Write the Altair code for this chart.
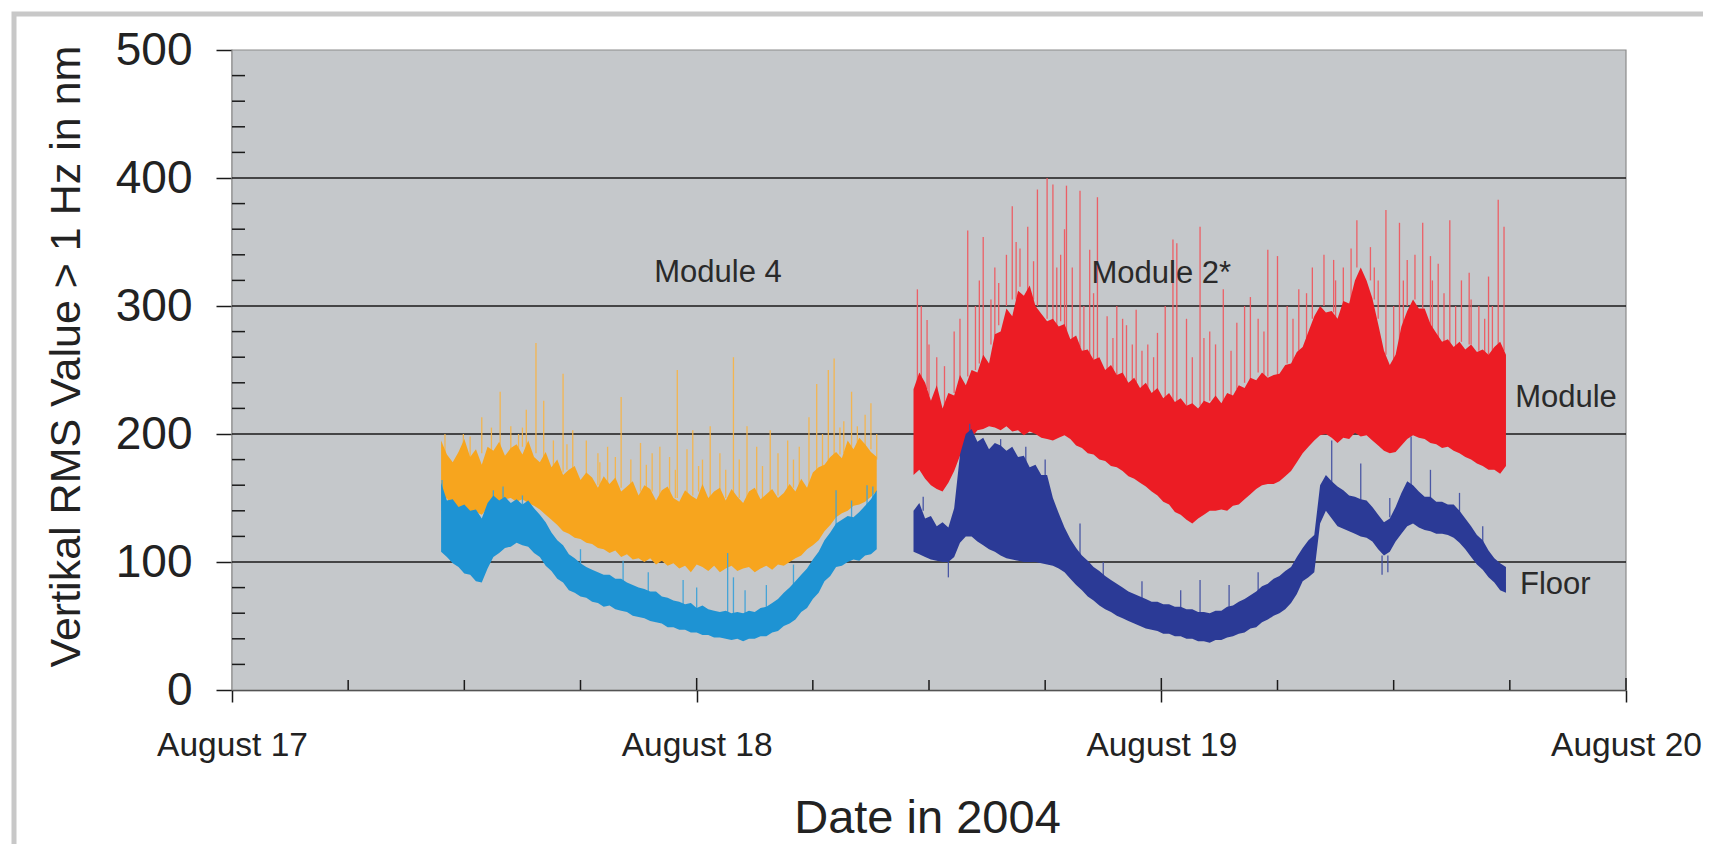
import altair as alt
import pandas as pd

# ---------------- data (hours since August 17, 00:00; values in nm) ----------------
# Module 4 (orange) and the floor under it (light blue): shared sample hours
M4_H = [10.8, 11.1, 11.4, 11.7, 12.0, 12.3, 12.6, 12.9, 13.2, 13.5,
        13.8, 14.1, 14.4, 14.7, 15.0, 15.3, 15.6, 15.9, 16.2, 16.5,
        16.8, 17.1, 17.4, 17.7, 18.0, 18.3, 18.6, 18.9, 19.2, 19.5,
        19.8, 20.1, 20.4, 20.7, 21.0, 21.3, 21.6, 21.9, 22.2, 22.5,
        22.8, 23.1, 23.4, 23.7, 24.0, 24.3, 24.6, 24.9, 25.2, 25.5,
        25.8, 26.1, 26.4, 26.7, 27.0, 27.3, 27.6, 27.9, 28.2, 28.5,
        28.8, 29.1, 29.4, 29.7, 30.0, 30.3, 30.6, 30.9, 31.2, 31.5,
        31.8, 32.1, 32.4, 32.7, 33.0, 33.3]
OR_LO = [145, 150, 140, 131, 128, 134, 139, 137, 142, 146,
         145, 149, 150, 147, 149, 146, 144, 141, 137, 133,
         129, 124, 122, 119, 118, 115, 114, 111, 110, 107,
         109, 104, 106, 102, 103, 100, 103, 98, 101, 97,
         99, 95, 97, 92, 98, 96, 93, 97, 92, 95,
         97, 93, 95, 96, 92, 95, 97, 94, 98, 97,
         100, 103, 105, 110, 113, 117, 124, 129, 135, 138,
         140, 144, 145, 147, 151, 155]
OR_HI = [195, 184, 178, 186, 196, 182, 188, 176, 190, 187,
         194, 183, 189, 192, 184, 195, 182, 178, 186, 174,
         180, 168, 172, 175, 164, 170, 166, 158, 167, 161,
         166, 155, 159, 163, 152, 160, 157, 148, 156, 159,
         150, 147, 156, 152, 149, 161, 150, 155, 158, 148,
         157, 151, 146, 155, 158, 149, 153, 157, 150, 154,
         161, 155, 165, 158, 170, 174, 176, 182, 186, 181,
         195, 188, 197, 192, 186, 182]
LB_LO = [108, 104, 99, 96, 91, 90, 85, 84, 95, 104,
         107, 111, 112, 115, 113, 112, 107, 104, 97, 93,
         87, 84, 78, 76, 73, 72, 69, 68, 65, 66,
         63, 62, 61, 58, 57, 56, 54, 53, 52, 49,
         49, 47, 47, 45, 45, 43, 43, 41, 41, 40,
         39, 40, 38, 40, 40, 42, 42, 45, 46, 50,
         52, 55, 61, 64, 71, 76, 85, 89, 96, 97,
         100, 102, 101, 105, 106, 110]
LB_HI = [162, 148, 149, 143, 145, 140, 141, 134, 146, 152,
         148, 151, 146, 149, 145, 148, 142, 137, 131, 123,
         117, 113, 106, 103, 99, 96, 94, 92, 90, 90,
         87, 87, 84, 82, 80, 79, 77, 77, 73, 72,
         70, 69, 67, 68, 64, 66, 63, 62, 61, 62,
         60, 61, 60, 62, 61, 64, 65, 68, 71, 76,
         80, 85, 90, 95, 102, 108, 117, 123, 130, 133,
         136, 135, 139, 144, 149, 156]

# Module 2* (red) and the floor under it (dark blue): shared sample hours
M2_H = [35.2, 35.5, 35.8, 36.1, 36.4, 36.7, 37.0, 37.3, 37.6, 37.9, 38.2, 38.5,
        38.8, 39.1, 39.4, 39.7, 40.0, 40.3, 40.6, 40.9, 41.2, 41.5, 41.8, 42.1,
        42.4, 42.7, 43.0, 43.3, 43.6, 43.9, 44.2, 44.5, 44.8, 45.1, 45.4, 45.7,
        46.0, 46.3, 46.6, 46.9, 47.2, 47.5, 47.8, 48.1, 48.4, 48.7, 49.0, 49.3,
        49.6, 49.9, 50.2, 50.5, 50.8, 51.1, 51.4, 51.7, 52.0, 52.3, 52.6, 52.9,
        53.2, 53.5, 53.8, 54.1, 54.4, 54.7, 55.0, 55.3, 55.6, 55.9, 56.2, 56.5,
        56.8, 57.1, 57.4, 57.7, 58.0, 58.3, 58.6, 58.9, 59.2, 59.5, 59.8, 60.1,
        60.4, 60.7, 61.0, 61.3, 61.6, 61.9, 62.2, 62.5, 62.8, 63.1, 63.4, 63.7,
        64.0, 64.3, 64.6, 64.9, 65.2, 65.5, 65.8]
RD_LO = [168, 172, 165, 160, 157, 155, 162, 171, 183, 189, 197, 203,
         204, 206, 205, 203, 206, 202, 203, 199, 202, 200, 197, 196,
         195, 197, 199, 196, 191, 189, 185, 184, 180, 179, 175, 174,
         171, 167, 165, 162, 159, 155, 152, 147, 145, 139, 137, 133,
         130, 134, 137, 140, 140, 141, 140, 144, 145, 149, 153, 157,
         160, 161, 161, 163, 167, 171, 178, 185, 190, 195, 199, 200,
         197, 193, 197, 196, 201, 198, 199, 195, 191, 187, 185, 186,
         191, 196, 199, 197, 196, 193, 192, 189, 190, 187, 185, 182,
         180, 177, 175, 172, 172, 169, 175]
RD_HI = [235, 248, 240, 226, 238, 220, 232, 230, 246, 238, 250, 248,
         262, 255, 278, 280, 298, 292, 312, 308, 316, 300, 294, 288,
         290, 284, 286, 274, 277, 265, 266, 258, 260, 250, 254, 246,
         248, 240, 244, 236, 240, 232, 236, 228, 232, 225, 228, 222,
         224, 220, 226, 224, 230, 224, 232, 230, 238, 236, 244, 242,
         248, 244, 246, 247, 254, 255, 264, 268, 280, 292, 300, 295,
         296, 290, 304, 302, 320, 330, 320, 306, 286, 265, 254, 262,
         284, 296, 305, 298, 298, 286, 279, 272, 274, 268, 272, 266,
         270, 264, 266, 262, 268, 272, 262]
DB_LO = [108, 106, 104, 102, 101, 100, 100, 104, 115, 120, 120, 116,
         113, 110, 108, 105, 103, 102, 101, 100, 100, 100, 99, 98,
         97, 95, 92, 87, 82, 78, 73, 70, 66, 63, 61, 58,
         56, 54, 52, 50, 48, 47, 46, 44, 44, 42, 42, 40,
         40, 38, 38, 37, 39, 39, 41, 42, 44, 45, 48, 49,
         53, 55, 58, 60, 63, 68, 75, 85, 88, 92, 130, 140,
         134, 128, 126, 124, 122, 120, 119, 116, 110, 105, 108, 116,
         122, 128, 130, 127, 125, 124, 122, 122, 121, 119, 115, 110,
         104, 98, 94, 88, 84, 78, 76]
DB_HI = [140, 146, 134, 136, 128, 131, 127, 142, 184, 200, 204, 194,
         197, 188, 193, 191, 187, 190, 182, 183, 174, 176, 168, 168,
         150, 138, 127, 118, 111, 105, 101, 96, 93, 89, 86, 83,
         80, 77, 75, 73, 71, 69, 69, 67, 67, 65, 65, 63,
         63, 61, 61, 60, 62, 62, 65, 66, 69, 71, 74, 77,
         81, 83, 87, 89, 93, 96, 104, 111, 117, 121, 160, 168,
         163, 159, 156, 152, 151, 149, 148, 143, 137, 131, 134, 143,
         154, 163, 160, 155, 151, 151, 147, 147, 145, 145, 140, 134,
         128, 121, 117, 109, 103, 99, 96]

# spikes: (hour, core value, tip value)
OR_SPIKES = [(11.0, 180, 200), (11.95, 185, 200), (12.3, 182, 198), (12.9, 185, 213), (13.4, 185, 205),
             (13.85, 185, 233), (14.4, 188, 206), (14.8, 185, 200), (15.0, 190, 205), (15.2, 188, 219),
             (15.7, 185, 271), (16.1, 180, 226), (16.6, 175, 195), (17.1, 170, 247), (17.3, 172, 192),
             (17.6, 168, 203), (18.3, 165, 195), (18.9, 160, 185), (19.0, 160, 178), (19.4, 160, 190),
             (19.8, 162, 182), (20.1, 158, 229), (20.6, 155, 180), (21.1, 155, 193), (21.4, 156, 176),
             (21.7, 155, 185), (22.1, 150, 190), (22.6, 150, 182), (22.9, 150, 172), (23.0, 150, 250),
             (23.5, 150, 188), (23.8, 152, 203), (24.1, 155, 175), (24.3, 150, 180), (24.7, 150, 206),
             (25.2, 152, 185), (25.5, 150, 172), (25.9, 150, 260), (26.2, 150, 180), (26.6, 150, 206),
             (27.1, 152, 190), (27.4, 150, 175), (27.8, 150, 203), (28.2, 152, 185), (28.7, 155, 195),
             (29.0, 158, 180), (29.3, 158, 190), (29.8, 160, 213), (30.2, 165, 239), (30.5, 175, 200),
             (30.8, 178, 250), (31.1, 180, 259), (31.4, 184, 205), (31.6, 185, 210), (32.0, 190, 233),
             (32.3, 192, 206), (32.7, 190, 215), (33.0, 188, 224), (33.3, 180, 200)]
LB_SPIKES = [(10.85, 140, 164), (13.5, 140, 156), (14.0, 142, 159), (15.0, 140, 152), (18.0, 95, 110),
             (20.2, 82, 101), (21.5, 75, 92), (23.3, 65, 86), (24.0, 62, 80), (25.6, 58, 107), (25.9, 58, 88),
             (26.5, 58, 78), (27.6, 62, 82), (29.0, 80, 98), (31.2, 125, 156), (32.0, 132, 148),
             (32.8, 140, 160), (33.1, 145, 159)]
RD_SPIKES = [(35.4, 240, 313), (35.6, 240, 300), (35.9, 235, 289), (36.0, 230, 270), (36.4, 225, 260),
             (36.8, 215, 253), (37.3, 232, 280), (37.6, 240, 290), (38.0, 245, 359), (38.4, 250, 300),
             (38.6, 255, 320), (38.8, 260, 354), (39.2, 270, 305), (39.4, 275, 330), (39.6, 285, 318),
             (40.0, 300, 340), (40.3, 305, 378), (40.5, 305, 350), (40.7, 315, 345), (41.1, 310, 362),
             (41.4, 305, 335), (41.6, 300, 391), (42.1, 290, 400), (42.4, 285, 395), (42.6, 285, 330),
             (42.8, 288, 340), (43.0, 285, 360), (43.1, 280, 394), (43.4, 272, 330), (43.8, 268, 390),
             (44.0, 265, 300), (44.3, 262, 344), (44.5, 258, 310), (44.7, 258, 385), (45.2, 250, 292),
             (45.5, 248, 275), (45.7, 246, 300), (46.0, 245, 290), (46.2, 240, 285), (46.5, 240, 270),
             (46.7, 238, 297), (47.0, 236, 265), (47.3, 234, 270), (47.6, 232, 260), (47.8, 228, 279),
             (48.2, 226, 300), (48.6, 222, 352), (48.8, 222, 349), (49.3, 222, 290), (49.6, 222, 260),
             (50.0, 222, 362), (50.2, 224, 275), (50.5, 226, 280), (50.8, 228, 270), (51.2, 224, 313),
             (51.6, 230, 265), (51.9, 235, 287), (52.3, 240, 300), (52.6, 242, 307), (53.0, 248, 290),
             (53.3, 245, 280), (53.5, 245, 344), (54.0, 245, 339), (54.5, 255, 300), (54.8, 255, 290),
             (55.1, 265, 313), (55.5, 275, 310), (55.8, 290, 330), (56.4, 300, 340), (56.9, 295, 336),
             (57.0, 290, 320), (57.4, 300, 330), (57.8, 305, 345), (58.1, 330, 367), (58.8, 320, 346),
             (59.0, 305, 330), (59.2, 290, 320), (59.6, 262, 375), (60.0, 255, 300), (60.3, 270, 365),
             (60.5, 285, 320), (60.7, 300, 336), (61.1, 305, 340), (61.5, 298, 365), (61.9, 285, 339),
             (62.0, 283, 320), (62.3, 275, 333), (62.6, 270, 310), (62.9, 270, 367), (63.2, 268, 300),
             (63.5, 272, 320), (63.9, 270, 326), (64.0, 270, 305), (64.4, 265, 300), (64.7, 262, 290),
             (64.9, 262, 323), (65.1, 265, 300), (65.4, 270, 383), (65.7, 265, 362)]
DB_SPIKES = [(35.7, 140, 151), (37.0, 100, 88), (38.1, 200, 208), (39.7, 190, 196), (41.0, 175, 190),
             (42.0, 165, 180), (43.8, 105, 130), (45.0, 85, 100), (47.0, 70, 85), (49.0, 64, 78),
             (50.0, 60, 86), (51.5, 64, 82), (53.0, 75, 92), (56.8, 160, 195), (58.3, 148, 177),
             (59.4, 105, 90), (59.7, 105, 92), (59.8, 135, 150), (60.9, 160, 198), (61.9, 150, 172),
             (63.4, 138, 154), (64.6, 115, 128)]

# annotations
ANN_TEXT = ["Module 4", "Module 2*", "Module", "Floor"]
ANN_H = [25.1, 48.0, 68.9, 68.35]
ANN_V = [326, 325, 228, 82]

# axes
X_DAYS = [0, 24, 48, 72]
X_LABELS = ["August 17", "August 18", "August 19", "August 20"]
X_MINOR = [6, 12, 18, 30, 36, 42, 54, 60, 66]
X_MAJOR_INNER = [24, 48, 72]
Y_TICKS = [0, 100, 200, 300, 400, 500]
Y_MINOR = [20, 40, 60, 80, 120, 140, 160, 180, 220, 240, 260, 280, 320, 340, 360, 380, 420, 440, 460, 480]
GRID_VALUES = [100, 200, 300, 400]

COL_OR, TIP_OR = "#f7a51e", "#f6b44a"
COL_LB, TIP_LB = "#1e93d3", "#3fa2d8"
COL_RD, TIP_RD = "#ec1c24", "#ee5a60"
COL_DB, TIP_DB = "#2b3a96", "#4351a2"

# ---------------- chart ----------------
W, H = 1394, 640
FONT = "Liberation Sans"
INK = "#1a1a1a"
BG = "#c5c8cb"

xs = alt.Scale(domain=[0, 72], nice=False, zero=False)
ys = alt.Scale(domain=[0, 500], nice=False, zero=True)

label_js = "[" + ",".join("'" + s + "'" for s in X_LABELS) + "]"
X_AXIS = alt.Axis(values=X_DAYS, labelExpr=label_js + "[round(datum.value / 24)]",
                  title="Date in 2004", titleFontSize=47, titleFontWeight="normal", titleColor="#222",
                  titleX=695, titleY=142, titleBaseline="alphabetic", titleAlign="center",
                  labelFontSize=33.5, labelColor="#222", labelPadding=27, labelFlush=False,
                  labelOverlap=False, tickSize=12, tickColor=INK, tickWidth=1.5,
                  domainColor=INK, domainWidth=1.5, grid=False, labelFont=FONT, titleFont=FONT)
Y_AXIS = alt.Axis(values=Y_TICKS, title="Vertikal RMS Value > 1 Hz in nm", titleFontSize=43,
                  titleFontWeight="normal", titleColor="#222", titleX=-166, titleY=306,
                  titleBaseline="middle", titleAlign="center", titleAngle=270,
                  labelFontSize=46, labelColor="#222", labelPadding=24, labelOverlap=False,
                  tickSize=16, tickColor=INK, tickWidth=1.5, domainColor=INK, domainWidth=1.5,
                  grid=False, labelFont=FONT, titleFont=FONT)


def band(h, lo, hi, color):
    df = pd.DataFrame({"h": h, "lo": lo, "hi": hi})
    return alt.Chart(df).mark_area(color=color, opacity=1, interpolate="linear").encode(
        x=alt.X("h:Q", scale=xs, axis=X_AXIS),
        y=alt.Y("lo:Q", scale=ys, axis=Y_AXIS),
        y2="hi:Q",
    )


def spikes(lst, color):
    df = pd.DataFrame(lst, columns=["h", "base", "peak"])
    return alt.Chart(df).mark_rule(color=color, strokeWidth=1.3, opacity=0.95).encode(
        x=alt.X("h:Q", scale=xs, axis=X_AXIS),
        y=alt.Y("base:Q", scale=ys, axis=Y_AXIS),
        y2="peak:Q",
    )


one = pd.DataFrame({"k": [0]})
# page frame: top and left edges visible, right edge runs off the page as in the original
frame = alt.Chart(one).mark_rect(fillOpacity=0, stroke="#c8c8c8", strokeWidth=5).encode(
    x=alt.value(-218), x2=alt.value(1520), y=alt.value(-36), y2=alt.value(830))

panel = alt.Chart(one).mark_rect(fill=BG, stroke="#8c8c8c", strokeWidth=1.2).encode(
    x=alt.value(0), x2=alt.value(W), y=alt.value(0), y2=alt.value(H))

grid = alt.Chart(pd.DataFrame({"v": GRID_VALUES})).mark_rule(color=INK, strokeWidth=1.3).encode(
    y=alt.Y("v:Q", scale=ys, axis=Y_AXIS), x=alt.value(0), x2=alt.value(W))

y_minor = alt.Chart(pd.DataFrame({"v": Y_MINOR})).mark_rule(color=INK, strokeWidth=1.5).encode(
    y=alt.Y("v:Q", scale=ys, axis=Y_AXIS), x=alt.value(0), x2=alt.value(13))

x_minor = alt.Chart(pd.DataFrame({"t": X_MINOR})).mark_rule(color=INK, strokeWidth=1.5).encode(
    x=alt.X("t:Q", scale=xs, axis=X_AXIS), y=alt.value(H), y2=alt.value(H - 10))

x_major_in = alt.Chart(pd.DataFrame({"t": X_MAJOR_INNER})).mark_rule(color=INK, strokeWidth=1.5).encode(
    x=alt.X("t:Q", scale=xs, axis=X_AXIS), y=alt.value(H), y2=alt.value(H - 12))

ann = alt.Chart(pd.DataFrame({"h": ANN_H, "v": ANN_V, "txt": ANN_TEXT})).mark_text(
    font=FONT, fontSize=31, color="#2a2a2a", align="center", baseline="middle").encode(
    x=alt.X("h:Q", scale=xs, axis=X_AXIS), y=alt.Y("v:Q", scale=ys, axis=Y_AXIS), text="txt:N")

chart = alt.layer(
    frame, panel, grid,
    spikes(OR_SPIKES, TIP_OR), band(M4_H, OR_LO, OR_HI, COL_OR),
    spikes(LB_SPIKES, TIP_LB), band(M4_H, LB_LO, LB_HI, COL_LB),
    spikes(RD_SPIKES, TIP_RD), band(M2_H, RD_LO, RD_HI, COL_RD),
    spikes(DB_SPIKES, TIP_DB), band(M2_H, DB_LO, DB_HI, COL_DB),
    y_minor, x_minor, x_major_in, ann,
).properties(
    width=W, height=H,
    background="white",
    autosize=alt.AutoSizeParams(type="none"),
    padding={"left": 224, "top": 42, "right": 77, "bottom": 154},
).configure_view(
    strokeWidth=0,
)

chart.save("out.html", embed_options={"renderer": "svg", "actions": False})
